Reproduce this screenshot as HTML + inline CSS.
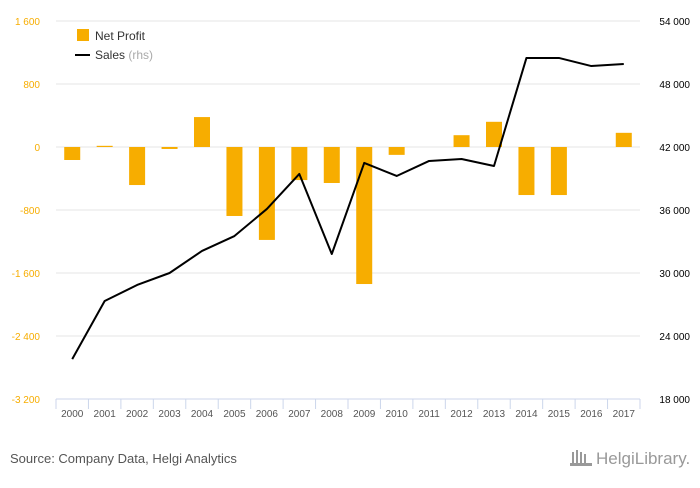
<!DOCTYPE html>
<html><head><meta charset="utf-8"><style>
body{margin:0;background:#fff;font-family:"Liberation Sans",sans-serif}
svg text{font-family:"Liberation Sans",sans-serif}
</style></head><body>
<svg width="700" height="483" id="c">
<rect x="0" y="0" width="700" height="483" fill="#fff"/>
<g id="grid"></g><g id="bars"></g><g id="line"></g><g id="axes"></g>
<g>
<rect x="77" y="29" width="12" height="12" fill="#f7ad00"/>
<text x="95" y="40" font-size="12" fill="#333">Net Profit</text>
<line x1="75" y1="55" x2="90" y2="55" stroke="#000" stroke-width="2"/>
<text x="95" y="59" font-size="12" fill="#333">Sales <tspan fill="#aaa">(rhs)</tspan></text>
</g>
<text x="10" y="463" font-size="13" fill="#555">Source: Company Data, Helgi Analytics</text>
<text x="596" y="464" font-size="17" fill="#999">HelgiLibrary.</text>
<g fill="#999"><rect x="572" y="452" width="2" height="12"/><rect x="576" y="450" width="2" height="14"/><rect x="580" y="452" width="2" height="12"/><rect x="584" y="454" width="2" height="10"/><rect x="570" y="463" width="22" height="3"/></g>
</svg>
<script>
const years=["2000","2001","2002","2003","2004","2005","2006","2007","2008","2009","2010","2011","2012","2013","2014","2015","2016","2017"];
const netProfit=[-165,15,-483,-25,380,-876,-1180,-420,-457,-1740,-100,0,150,320,-610,-610,0,180];
const sales=[21800,27330,28860,30000,32100,33520,36100,39430,31810,40480,39240,40670,40860,40190,50480,50480,49710,49900];
const leftTicks=[1600,800,0,-800,-1600,-2400,-3200];
const rightTicks=[54000,48000,42000,36000,30000,24000,18000];
const NS="http://www.w3.org/2000/svg";
const L=56,R=640,T=21,B=399;
const step=(R-L)/years.length;
const x=i=>L+step*(i+0.5);
const yl=v=>T+(1600-v)*(B-T)/4800;
const yr=v=>T+(54000-v)*(B-T)/36000;
const fmt=v=>{const s=Math.abs(v).toString().replace(/\B(?=(\d{3})+(?!\d))/g," ");return (v<0?"-":"")+s;};
function mk(p,tag,a){const e=document.createElementNS(NS,tag);for(const k in a)e.setAttribute(k,a[k]);document.getElementById(p).appendChild(e);return e;}
leftTicks.forEach((t,i)=>{
 const y=yl(t);
 if(i<leftTicks.length-1){const g=mk("grid","line",{x1:L,x2:R,y1:y,y2:y,stroke:"#e6e6e6"});
 
 }
 const e=mk("axes","text",{x:40,y:y+4,"font-size":10,fill:"#f7ad00","text-anchor":"end"});e.textContent=fmt(t);
 
 
});
rightTicks.forEach(t=>{
 const e=mk("axes","text",{x:690,y:yr(t)+4,"font-size":10,fill:"#000","text-anchor":"end"});e.textContent=fmt(t);
 
 
});
const ax=mk("axes","line",{x1:L,x2:R,y1:B,y2:B,stroke:"#ccd6eb"});


for(let i=0;i<=years.length;i++){const tk=mk("axes","line",{x1:L+step*i,x2:L+step*i,y1:B,y2:B+10,stroke:"#ccd6eb"});
 
 }
years.forEach((yv,i)=>{
 const e=mk("axes","text",{x:x(i),y:417,"font-size":10,fill:"#555","text-anchor":"middle"});e.textContent=yv;
 
 
 const v=netProfit[i];const y0=yl(0),y1=yl(v);
 const b=mk("bars","rect",{x:x(i)-8,y:Math.min(y0,y1),width:16,height:Math.max(Math.abs(y1-y0),v===0?0:1),fill:"#f7ad00"});
 
 
});
const pl=mk("line","polyline",{points:sales.map((v,i)=>x(i)+","+yr(v)).join(" "),fill:"none",stroke:"#000","stroke-width":2,"stroke-linejoin":"round"});


</script>
</body></html>
